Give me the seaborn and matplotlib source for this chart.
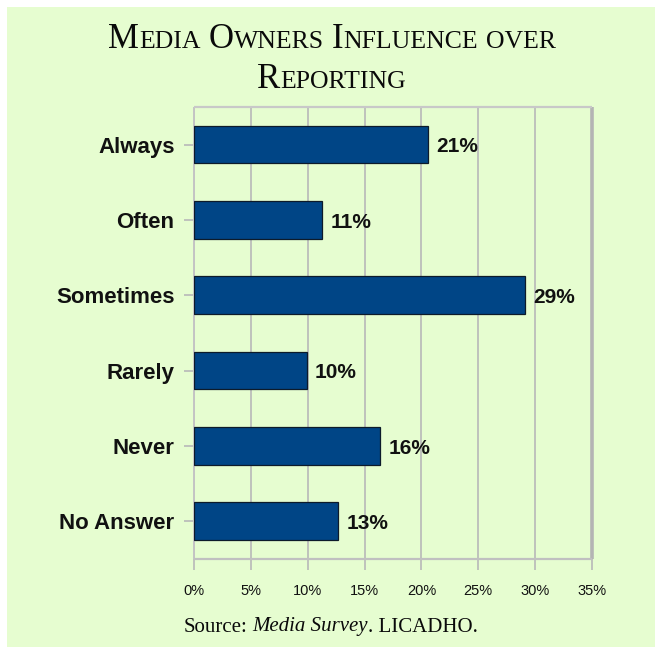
import matplotlib
matplotlib.use("Agg")
import matplotlib.pyplot as plt
import seaborn as sns
import pandas as pd
from matplotlib.patches import Rectangle
from matplotlib.ticker import FixedLocator, FuncFormatter

# Survey answers and their share of respondents (%)
responses = ["Always", "Often", "Sometimes", "Rarely", "Never", "No Answer"]
shares = [20.6, 11.3, 29.1, 9.9, 16.4, 12.7]
x_ticks = [0, 5, 10, 15, 20, 25, 30, 35]

title_lines = ["Media Owners Influence over", "Reporting"]
source_parts = [("Source:", "normal"), ("Media Survey", "italic"), (". LICADHO.", "normal")]

BG = "#e6fdd0"
BAR = "#004586"
GRID = "#b8b8b8"

W, H = 657, 649
sns.set_theme(style="white")
plt.rcParams["font.family"] = ["Liberation Sans", "DejaVu Sans"]

fig = plt.figure(figsize=(W / 100, H / 100), dpi=100)
fig.patch.set_facecolor("white")
fig.patches.append(Rectangle((7 / W, 2 / H), (655 - 7) / W, (642 - 2) / H,
                             transform=fig.transFigure, facecolor=BG,
                             edgecolor="none", zorder=-10))

ax = fig.add_axes([194 / W, 1 - 559 / H, (592 - 194) / W, (559 - 107) / H])
ax.set_facecolor(BG)

df = pd.DataFrame({"response": responses, "share": shares})
sns.barplot(data=df, x="share", y="response", orient="h", color=BAR,
            saturation=1, width=0.5, edgecolor="#0d1b2a", linewidth=0.9,
            ax=ax, zorder=3)

ax.set_xlim(0, 35)
ax.xaxis.set_major_locator(FixedLocator(x_ticks))
ax.xaxis.set_major_formatter(FuncFormatter(lambda v, _: f"{v:.0f}%"))
ax.set_xlabel("")
ax.set_ylabel("")
ax.grid(axis="x", color=GRID, linewidth=1.2, zorder=0)
ax.grid(axis="y", visible=False)
ax.set_axisbelow(True)

for side, lw, col in [("left", 1.4, "#c4c4c4"), ("top", 1.6, "#c8c8c8"),
                      ("right", 2.6, "#b4b4b4"), ("bottom", 1.6, "#c0c0c0")]:
    ax.spines[side].set_visible(True)
    ax.spines[side].set_linewidth(lw)
    ax.spines[side].set_color(col)
    ax.spines[side].set_capstyle("butt")

ax.tick_params(axis="x", bottom=True, length=8, width=1.2, color=GRID,
               pad=10, labelsize=10.5, labelcolor="#111111")
ax.tick_params(axis="y", left=True, length=7, width=1.2, color=GRID,
               pad=7, labelsize=16, labelcolor="#111111")
for lbl in ax.get_yticklabels():
    lbl.set_fontweight("bold")

# value labels at the end of each bar
for bar, val in zip(ax.patches, shares):
    ax.text(bar.get_width() + 0.7, bar.get_y() + bar.get_height() / 2 + 0.03,
            f"{val:.0f}%", va="center", ha="left", fontsize=15,
            fontweight="bold", color="#111111", zorder=4)

renderer = fig.canvas.get_renderer()
SERIF = ["Liberation Serif", "DejaVu Serif"]


def place_runs(runs, baseline_px, center_px, gap_px=0.0):
    """Lay out text runs side by side on one baseline, centred horizontally."""
    texts = []
    for item in runs:
        if item is None:
            texts.append(None)
            continue
        s, size, style = item
        t = fig.text(0, 1 - baseline_px / H, s, fontsize=size, style=style,
                     family=SERIF, va="baseline", ha="left", color="#0a0a0a")
        texts.append(t)
    widths = []
    for t in texts:
        if t is None:
            widths.append(gap_px)
        else:
            widths.append(t.get_window_extent(renderer).width)
    total = sum(widths)
    x = center_px - total / 2
    for t, w in zip(texts, widths):
        if t is not None:
            t.set_x(x / W)
        x += w


def small_caps_runs(line, big, small):
    runs = []
    for i, word in enumerate(line.split(" ")):
        if i > 0:
            runs.append(None)
        cur, cur_size = "", None
        for ch in word:
            size = big if ch.isupper() else small
            if size != cur_size and cur:
                runs.append((cur, cur_size, "normal"))
                cur = ""
            cur += ch.upper()
            cur_size = size
        if cur:
            runs.append((cur, cur_size, "normal"))
    return runs


BIG, SMALL = 25, 18.5
place_runs(small_caps_runs(title_lines[0], BIG, SMALL), 47.5, 332, gap_px=8)
place_runs(small_caps_runs(title_lines[1], BIG, SMALL), 88.5, 332, gap_px=8)

# source note below the axis
src_runs = [(s, 15, st) for s, st in source_parts]
place_runs([src_runs[0], None, src_runs[1], src_runs[2]], 631.5, 331, gap_px=5)

fig.savefig("out.png", dpi=100, facecolor=fig.get_facecolor())
